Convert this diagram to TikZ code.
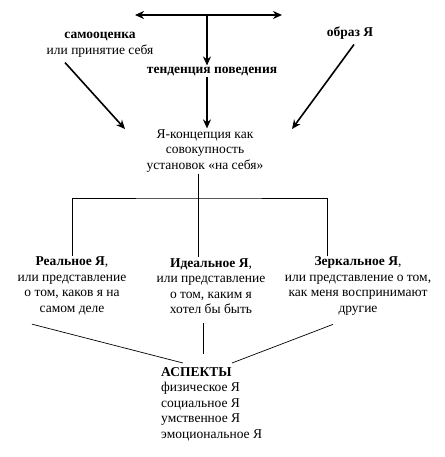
\documentclass[tikz,border=0pt]{standalone}
\usepackage{fontspec}
\setmainfont{Liberation Serif}
\usetikzlibrary{arrows.meta}

\begin{document}
\begin{tikzpicture}[x=1pt,y=-1pt,>={Stealth[length=9pt,width=8pt]},
  lbl/.style={font=\fontsize{13.5}{15.5}\selectfont,align=center,inner sep=1pt},
  arr/.style={->,line width=1.6pt},
  link/.style={line width=0.7pt}]
\useasboundingbox (0,0) rectangle (444,457);
% top
\coordinate (tl) at (135,15);
\coordinate (tr) at (282,15);
\coordinate (tm) at (207,15);
\draw[<->,line width=1.6pt] (tl) -- (tr);
\node[lbl] (sam) at (100,45) {\textbf{самооценка}\\или принятие себя};
\node[lbl] (obr) at (350,33) {\textbf{образ Я}};
\node[lbl] (ten) at (212,71) {\textbf{тенденция поведения}};
\node[lbl] (self) at (205,151) {Я-концепция как\\совокупность\\установок «на себя»};
\coordinate (samend) at (125,129);
\coordinate (obrend) at (292,129);
\draw[arr] (tm) -- (tm |- ten.north);
\draw[arr] (ten.south -| tm) -- (self.north -| tm);
\draw[arr] ([xshift=-35pt,yshift=-4pt]sam.south) -- (samend);
\draw[arr] ([xshift=4pt,yshift=-4pt]obr.south) -- (obrend);
% branches
\node[lbl] (real) at (72,286) {\textbf{Реальное Я},\\или представление\\о том, каков я на\\самом деле};
\node[lbl] (ideal) at (211,286) {\textbf{Идеальное Я},\\или представление\\о том, каким я\\хотел бы быть};
\node[lbl] (mirror) at (358,286) {\textbf{Зеркальное Я},\\или представление о том,\\как меня воспринимают\\другие};
\coordinate (fork) at (198,198);
\draw[link] (self.south -| fork) -- (fork);
\draw[link] (real.north -| 72,0) |- (fork) -| (mirror.north -| 327,0);
\draw[link] (fork) -- (ideal.north -| fork);
% aspects
\node[lbl,align=left,anchor=north west] (asp) at (160,366) {\textbf{АСПЕКТЫ}\\физическое Я\\социальное Я\\умственное Я\\эмоциональное Я};
\draw[link] ([xshift=-40pt,yshift=-8pt]real.south) -- ([xshift=23pt,yshift=3pt]asp.north west);
\draw[link] ([xshift=-8pt,yshift=-8pt]ideal.south) -- ([xshift=43pt,yshift=12pt]asp.north west);
\draw[link] ([xshift=-25pt,yshift=-8pt]mirror.south) -- ([xshift=72pt,yshift=3pt]asp.north west);
\end{tikzpicture}
\end{document}
